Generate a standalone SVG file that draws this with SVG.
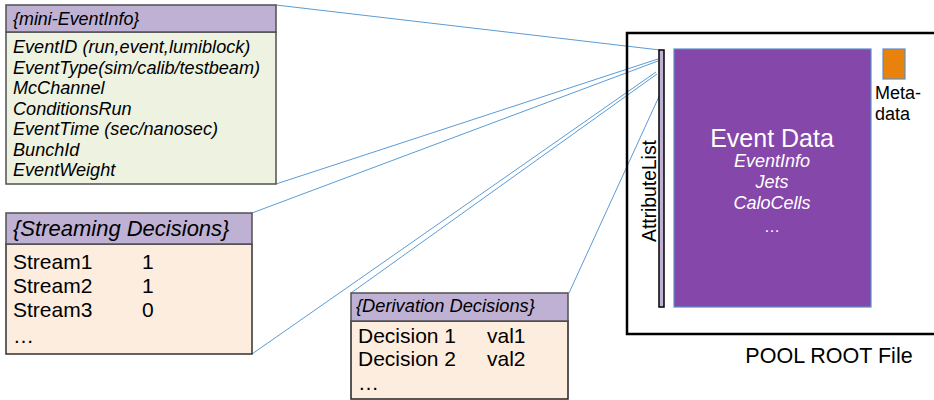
<svg xmlns="http://www.w3.org/2000/svg" width="934" height="400" viewBox="0 0 934 400">
<style>
text{font-family:"Liberation Sans",Arial,sans-serif;fill:#000}
.it{font-style:italic}
.hdr{fill:#bfb1d3;stroke:#505050;stroke-width:1.5}
.con{stroke:#5b9bd5;stroke-width:1;fill:none}
.w{fill:#fff}
</style>
<rect width="934" height="400" fill="#fff"/>
<g id="connectors">
<line class="con" x1="276" y1="5" x2="660" y2="50"/>
<line class="con" x1="276" y1="184" x2="658" y2="59"/>
<line class="con" x1="252" y1="213" x2="658" y2="61"/>
<line class="con" x1="252" y1="354" x2="656" y2="72"/>
<line class="con" x1="351" y1="293" x2="657" y2="74"/>
<line class="con" x1="569" y1="293" x2="662" y2="90"/>
</g>
<g id="pool-root-file">
<rect x="627" y="33" width="310" height="301" fill="none" stroke="#000" stroke-width="2.5"/>
<text x="829" y="363" font-size="21.5" text-anchor="middle">POOL ROOT File</text>
</g>
<g id="attribute-list">
<rect x="659" y="50" width="5" height="257" fill="#bfb1d3" stroke="#000" stroke-width="1.5"/>
<text transform="translate(656,191) rotate(-90)" font-size="19.3" text-anchor="middle">AttributeList</text>
</g>
<g id="event-data">
<rect x="674" y="49" width="197" height="258" fill="#8547aa" stroke="#5b8fc8" stroke-width="1.2"/>
<text class="w" x="772" y="147" font-size="25" text-anchor="middle">Event Data</text>
<text class="w it" x="772" y="167" font-size="18" text-anchor="middle">EventInfo</text>
<text class="w it" x="772" y="188" font-size="18" text-anchor="middle">Jets</text>
<text class="w it" x="772" y="209" font-size="18" text-anchor="middle">CaloCells</text>
<text class="w" x="772" y="232" font-size="16" text-anchor="middle">…</text>
</g>
<g id="metadata">
<rect x="883" y="49" width="22" height="30" fill="#e8820c" stroke="#5b8fc8" stroke-width="1.2"/>
<text x="875" y="99" font-size="18">Meta-</text>
<text x="875" y="120" font-size="18">data</text>
</g>
<g id="mini-eventinfo">
<rect x="6" y="32" width="270" height="152" fill="#eef2e1" stroke="#505050" stroke-width="1.5"/>
<rect class="hdr" x="6" y="5" width="270" height="27"/>
<text class="it" x="13" y="25" font-size="17.9">{mini-EventInfo}</text>
<g class="it" font-size="18.1">
<text x="13" y="53">EventID (run,event,lumiblock)</text>
<text x="13" y="73.5">EventType(sim/calib/testbeam)</text>
<text x="13" y="94">McChannel</text>
<text x="13" y="114.5">ConditionsRun</text>
<text x="13" y="135">EventTime (sec/nanosec)</text>
<text x="13" y="155.5">BunchId</text>
<text x="13" y="176">EventWeight</text>
</g>
</g>
<g id="streaming-decisions">
<rect x="6" y="244" width="246" height="110" fill="#fdeddf" stroke="#303030" stroke-width="1.5"/>
<rect class="hdr" x="6" y="213" width="246" height="31"/>
<text class="it" x="13" y="236" font-size="22">{Streaming Decisions}</text>
<g font-size="21">
<text x="13" y="269">Stream1</text><text x="142" y="269">1</text>
<text x="13" y="293">Stream2</text><text x="142" y="293">1</text>
<text x="13" y="317">Stream3</text><text x="142" y="317">0</text>
<text x="13" y="343">…</text>
</g>
</g>
<g id="derivation-decisions">
<rect x="351" y="321" width="217" height="78" fill="#fdeddf" stroke="#202020" stroke-width="1.5"/>
<rect class="hdr" x="351" y="293" width="217" height="28" stroke="#202020"/>
<text class="it" x="356" y="312" font-size="18.3">{Derivation Decisions}</text>
<g font-size="21">
<text x="358" y="343">Decision 1</text><text x="487" y="343">val1</text>
<text x="358" y="366">Decision 2</text><text x="487" y="366">val2</text>
<text x="358" y="390">…</text>
</g>
</g>
</svg>
